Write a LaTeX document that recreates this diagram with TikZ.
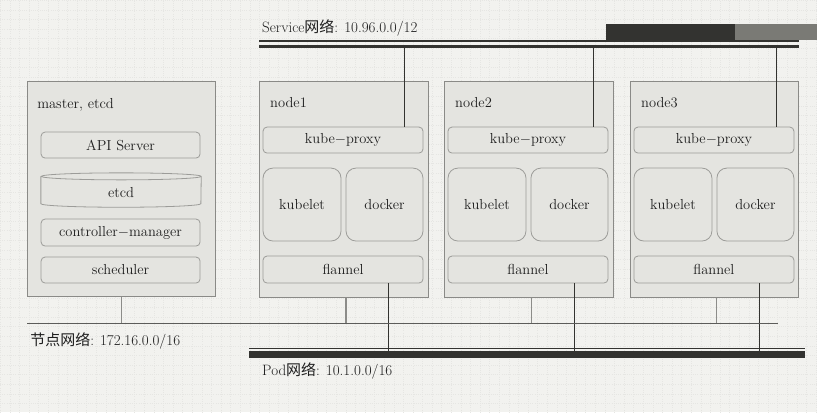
\documentclass[tikz,border=0pt]{standalone}
\usepackage{fontspec}
\newfontfamily\cjk{Noto Sans CJK SC}
\usepackage{tikz}

\definecolor{bgcol}{HTML}{F2F2EF}
\definecolor{gridcol}{HTML}{E6E6E3}
\definecolor{boxfill}{HTML}{E4E4E0}
\definecolor{boxline}{HTML}{8A8A87}
\definecolor{partline}{HTML}{9C9C99}
\definecolor{linedark}{HTML}{333330}
\definecolor{linegrey}{HTML}{8C8C89}
\definecolor{bargrey}{HTML}{7A7A75}
\definecolor{textcol}{HTML}{1E1E1E}

\tikzset{
	hostbox/.style={draw=boxline, fill=boxfill, line width=0.9pt, minimum width=169pt, minimum height=216pt, inner sep=0pt},
	partbox/.style={draw=partline, fill=boxfill, line width=0.8pt, rounded corners=4pt, minimum width=160pt, minimum height=26pt, inner sep=0pt, text=textcol, font=\fontsize{14.5}{17}\selectfont},
	cellbox/.style={partbox, rounded corners=10pt, minimum height=73pt},
	hostlabel/.style={anchor=base west, inner sep=0pt, text=textcol, font=\fontsize{14.5}{17}\selectfont},
	netlabel/.style={anchor=west, inner sep=0pt, text=textcol, font=\fontsize{15}{18}\selectfont},
	svcdrop/.style={draw=linedark, line width=0.9pt},
	hostdrop/.style={draw=linegrey, line width=1.1pt},
	poddrop/.style={draw=linedark, line width=0.9pt}
}

\begin{document}
\begin{tikzpicture}[x=1pt, y=-1pt]
	\fill[bgcol] (0,0) rectangle (817,412);
	\draw[gridcol, step=9.6pt, very thin, dotted] (0,0) grid (817,412);
	\useasboundingbox (0,0) rectangle (817,412);

	\fill[linedark] (606,24) rectangle (735,40);
	\fill[bargrey] (735,24) rectangle (817,40);

	\coordinate (svcTL) at (259,41);
	\coordinate (svcTR) at (799,41);
	\coordinate (svcL) at (259,46.5);
	\coordinate (svcR) at (799,46.5);
	\coordinate (hostL) at (27,323.3);
	\coordinate (hostR) at (778,323.3);
	\coordinate (podTL) at (249,348.3);
	\coordinate (podTR) at (805,348.3);
	\coordinate (podL) at (249,354.5);
	\coordinate (podR) at (805,354.5);

	\draw[linedark, line width=1.6pt] (svcTL) -- (svcTR);
	\draw[linedark, line width=3pt] (svcL) -- (svcR);
	\node[netlabel] (svclbl) at (262,28) {Service{\cjk 网络}: 10.96.0.0/12};

	\node[hostbox, minimum width=188pt, minimum height=215pt] (master) at (121,188.5) {};
	\node[hostlabel] (masterlbl) at (37,108) {master, etcd};
	\node[partbox, minimum width=159pt] (api) at (120.5,145) {API Server};
	\node[minimum width=160pt, minimum height=34pt, inner sep=0pt] (etcd) at (121,190) {};
	\draw[draw=partline, fill=boxfill, line width=0.8pt] ([yshift=-3.5pt]etcd.north west) -- ([yshift=3.5pt]etcd.south west)
		arc[start angle=180, end angle=360, x radius=80pt, y radius=3.5pt] -- ([yshift=-3.5pt]etcd.north east)
		arc[start angle=0, end angle=360, x radius=80pt, y radius=3.5pt];
	\node[text=textcol, font=\fontsize{14.5}{17}\selectfont] (etcdlbl) at ([yshift=-2pt]etcd.center) {etcd};
	\node[partbox, minimum width=159pt, minimum height=27pt] (ctrl) at (120.5,232.5) {controller$-$manager};
	\node[partbox, minimum width=159pt] (sched) at (120.5,270) {scheduler};

	\foreach \ox/\n/\sv/\fl/\hd in {259/1/61/45/2.5, 444/2/65/46/3, 630/3/63/46/2.5} {
		\node[hostbox] (node\n) at (\ox+84.5,189) {};
		\node[hostlabel] (nodelbl\n) at (\ox+11,107) {node\n};
		\node[partbox] (kp\n) at (\ox+84,140) {kube$-$proxy};
		\node[cellbox, minimum width=78pt] (kl\n) at (\ox+43,204.5) {kubelet};
		\node[cellbox, minimum width=77pt] (dk\n) at (\ox+125.5,204.5) {docker};
		\node[partbox, minimum height=27pt] (fl\n) at (\ox+84,269.5) {flannel};

		\draw[svcdrop] ([xshift=\sv pt]kp\n.north) -- ([xshift=\sv pt]kp\n.north |- svcL);
		\draw[hostdrop] ([xshift=\hd pt]node\n.south) -- ([xshift=\hd pt]node\n.south |- hostL);
		\draw[poddrop] ([xshift=\fl pt]fl\n.south) -- ([xshift=\fl pt]fl\n.south |- podL);
	}

	\draw[hostdrop] (master.south) -- (master.south |- hostL);
	\draw[linedark!80, line width=1.1pt] (hostL) -- (hostR);
	\node[netlabel] (hostlbl) at (30,341) {{\cjk 节点网络}: 172.16.0.0/16};

	\draw[linedark, line width=1.5pt] (podTL) -- (podTR);
	\draw[linedark, line width=6.5pt] (podL) -- (podR);
	\node[netlabel] (podlbl) at (262,371) {Pod{\cjk 网络}: 10.1.0.0/16};
\end{tikzpicture}
\end{document}
